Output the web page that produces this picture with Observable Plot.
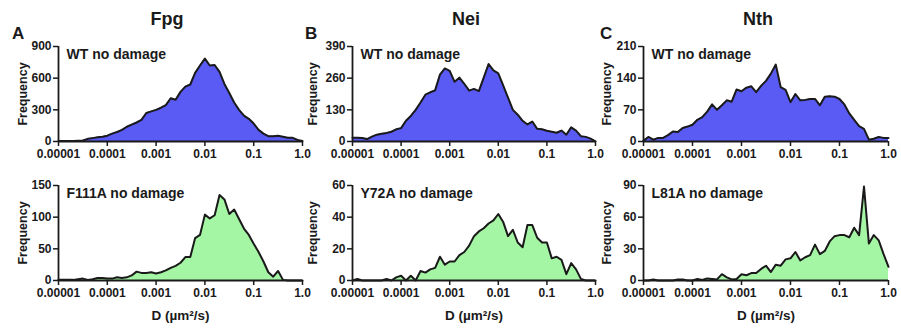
<!DOCTYPE html>
<html><head><meta charset="utf-8">
<script src="https://cdn.jsdelivr.net/npm/d3@7"></script>
<script src="https://cdn.jsdelivr.net/npm/@observablehq/plot@0.6"></script>
<style>
body{margin:0;background:#fff;}
#chart{position:relative;width:901px;height:329px;font-family:"Liberation Sans",Arial,sans-serif;color:#1a1a1a;overflow:hidden;}
.t{position:absolute;font-weight:bold;white-space:nowrap;}
.title{font-size:18px;line-height:18px;transform:translateX(-50%);}
.letter{font-size:17px;line-height:17px;}
#chart svg{position:absolute;overflow:visible;}
</style></head><body><div id="chart"></div>
<script>
// bin centres, log10 of D (µm²/s)
const logD = [-5.0,-4.9,-4.8,-4.7,-4.6,-4.5,-4.4,-4.3,-4.2,-4.1,-4.0,-3.9,-3.8,-3.7,-3.6,-3.5,-3.4,-3.3,-3.2,-3.1,
  -3.0,-2.9,-2.8,-2.7,-2.6,-2.5,-2.4,-2.3,-2.2,-2.1,-2.0,-1.9,-1.8,-1.7,-1.6,-1.5,-1.4,-1.3,-1.2,-1.1,
  -1.0,-0.9,-0.8,-0.7,-0.6,-0.5,-0.4,-0.3,-0.2,-0.1,0.0];

const enzymes = ["Fpg","Nei","Nth"];
const panelLetters = ["A","B","C"];
const topLabels = ["WT no damage","WT no damage","WT no damage"];
const bottomLabels = ["F111A no damage","Y72A no damage","L81A no damage"];

const fpgWT = [5,5,5,5,8,10,25,32,40,45,55,75,90,110,140,160,180,205,270,285,
  300,320,345,410,395,470,520,540,650,720,785,720,725,660,545,460,370,300,245,215,
  170,110,75,50,50,55,45,35,35,15,5];
const neiWT = [15,15,14,10,20,28,32,35,40,50,55,85,105,130,160,192,202,210,275,300,
  290,245,262,237,209,216,207,262,318,292,280,230,180,130,110,85,70,82,52,50,
  44,40,36,45,28,58,45,22,19,12,1];
const nthWT = [2,10,4,8,8,14,22,21,30,33,37,48,54,66,82,70,80,91,88,115,
  111,119,122,109,123,134,150,170,120,114,87,105,91,92,94,94,80,99,100,99,
  94,82,62,48,34,28,4,6,10,8,8];
const fpgF111A = [1,1,1,1,2,3,1,2,4,4,3,3,5,4,5,8,14,12,12,13,
  11,13,16,20,23,28,37,37,67,72,104,98,103,135,128,105,112,97,82,72,
  58,45,30,13,6,15,1,0,0,0,0];
const neiY72A = [0,1,0,0,0,0,0,1,0,2,3,0,3,0,6,5,7,8,15,10,
  12,12,16,18,22,28,31,33,36,38,42,37,28,32,24,21,35,35,27,24,
  24,14,15,13,4,11,7,1,0,0,0];
const nthL81A = [0,0,1,0,0,0,0,1,1,0,0,1.5,0.5,2,1.5,1,6,3,1,1.5,
  6,5,7,7,11,14,8,15,14,20,21,27,19,22,24,34,25,28,37,42,
  43,43,41,50,43,89,35,43,38,25,13];

const topSeries = [fpgWT, neiWT, nthWT];
const bottomSeries = [fpgF111A, neiY72A, nthL81A];
const yTicksTop = [[0,300,600,900],[0,130,260,390],[0,70,140,210]];
const yTicksBottom = [[0,50,100,150],[0,20,40,60],[0,30,60,90]];
const xTickValues = [0.00001,0.0001,0.001,0.01,0.1,1];
const xTickLabels = ["0.00001","0.0001","0.001","0.01","0.1","1.0"];
const xLabel = "D (µm²/s)";
const yLabel = "Frequency";
const wtColor = "#5a5af5";
const mutColor = "#a4f5a4";

const ink = "#1a1a1a";
const cols = [
  {left:0, width:310, ml:58, mr:8, ylab:-36},
  {left:300, width:303, ml:52, mr:8, ylab:-40},
  {left:600, width:301, ml:43, mr:13, ylab:-37}
];
const rows = [
  {top:0, height:165, mt:46, mb:24, series:topSeries, ticks:yTicksTop, labels:topLabels, color:wtColor, xlab:null},
  {top:165, height:164, mt:20, mb:49, series:bottomSeries, ticks:yTicksBottom, labels:bottomLabels, color:mutColor, xlab:xLabel}
];
const titleX = [167, 466, 758];
const letterX = [12, 305, 600];

const chart = document.getElementById("chart");
rows.forEach(r => {
  cols.forEach((c, i) => {
    const data = logD.map((l, k) => ({D: Math.pow(10, l), f: r.series[i][k]}));
    const yt = r.ticks[i];
    const ymax = yt[yt.length - 1];
    const marks = [
      Plot.areaY(data, {x: "D", y: "f", fill: r.color}),
      Plot.line(data, {x: "D", y: "f", stroke: ink, strokeWidth: 2}),
      Plot.ruleY([0], {stroke: ink, strokeWidth: 1.8}),
      Plot.ruleX([1e-5], {y1: 0, y2: ymax, stroke: ink, strokeWidth: 1.8}),
      Plot.axisX(xTickValues, {tickSize: 5, tickPadding: 3, strokeWidth: 1.5, stroke: ink, fill: ink,
        fontSize: 12, tickFormat: d => xTickLabels[xTickValues.indexOf(d)], label: null}),
      Plot.axisY(yt, {tickSize: 5, tickPadding: 2, strokeWidth: 1.5, stroke: ink, fill: ink,
        fontSize: 12, label: null}),
      Plot.text([yLabel], {text: d => d, frameAnchor: "left", dx: c.ylab, rotate: -90,
        textAnchor: "middle", lineAnchor: "middle", fontSize: 12.5, fontWeight: "bold", fill: ink}),
      Plot.text([r.labels[i]], {text: d => d, frameAnchor: "top-left", dx: 8, dy: 3,
        fontSize: 14, fontWeight: "bold", fill: ink, textAnchor: "start", lineAnchor: "top"})
    ];
    if (r.xlab) {
      marks.push(Plot.text([r.xlab], {text: d => d, frameAnchor: "bottom", dy: 35,
        textAnchor: "middle", lineAnchor: "middle", fontSize: 13.5, fontWeight: "bold", fill: ink}));
    }
    const svg = Plot.plot({
      width: c.width, height: r.height,
      marginLeft: c.ml, marginRight: c.mr, marginTop: r.mt, marginBottom: r.mb,
      style: {fontFamily: '"Liberation Sans", Arial, sans-serif', fontSize: "12px", fontWeight: "bold", color: ink, background: "transparent", overflow: "visible"},
      x: {type: "log", domain: [1e-5, 1]},
      y: {domain: [0, ymax]},
      marks
    });
    svg.style.left = c.left + "px";
    svg.style.top = r.top + "px";
    chart.appendChild(svg);
  });
});
enzymes.forEach((e, i) => {
  const t = document.createElement("div");
  t.className = "t title"; t.textContent = e;
  t.style.left = titleX[i] + "px"; t.style.top = "10px";
  chart.appendChild(t);
  const l = document.createElement("div");
  l.className = "t letter"; l.textContent = panelLetters[i];
  l.style.left = letterX[i] + "px"; l.style.top = "25px";
  chart.appendChild(l);
});
</script></body></html>
